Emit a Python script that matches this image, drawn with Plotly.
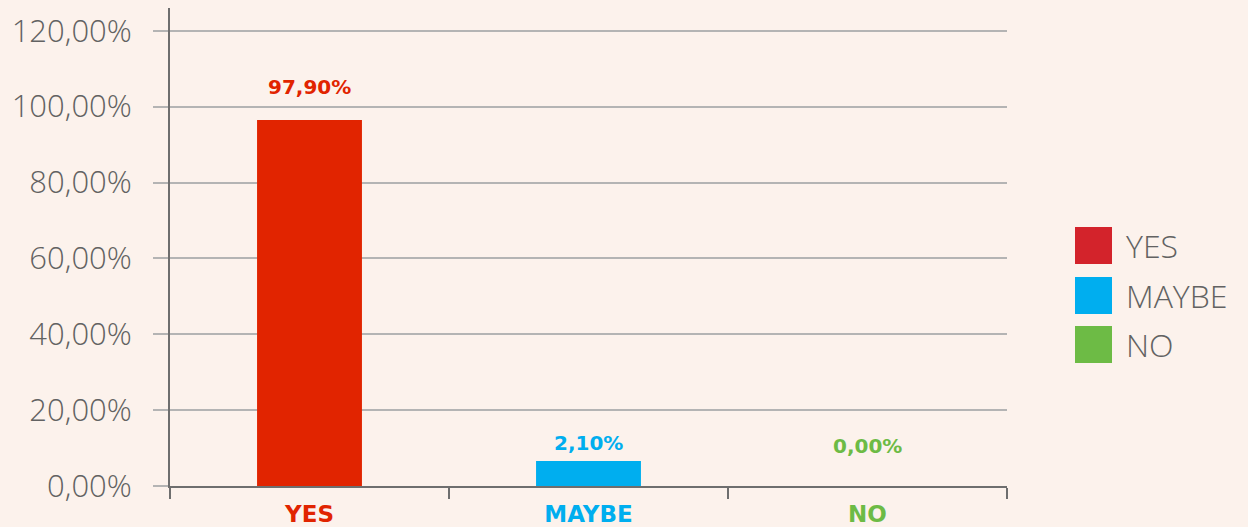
import plotly.graph_objects as go

categories = ["YES", "MAYBE", "NO"]
bar_values = [0.965, 0.066, 0.0]          # bar heights as drawn
label_texts = ["97,90%", "2,10%", "0,00%"]  # printed value labels
bar_colors = ["#E12400", "#00AEEF", "#6DBB45"]
legend_colors = ["#D3232B", "#00AEEF", "#6DBB45"]
y_ticks = [0, 0.2, 0.4, 0.6, 0.8, 1.0, 1.2]

W, H = 1248, 527
ML, MR, MT, MB = 170, 241, 8, 41
PW, PH = W - ML - MR, H - MT - MB
BG = "#FCF2EC"
FONT = "Open Sans"
BOLD = "DejaVu Sans"
TXT = "#626262"

def px_x(x):
    return (x - ML) / PW

def px_y(y):
    return (H - MB - y) / PH

fig = go.Figure()
fig.add_trace(go.Bar(
    x=categories, y=bar_values, marker=dict(color=bar_colors, line=dict(width=0)),
    width=0.376, showlegend=False, hoverinfo="skip",
))

# value labels
yshifts = [33, 18, 40]
for cat, val, txt, col, ys in zip(categories, bar_values, label_texts, bar_colors, yshifts):
    fig.add_annotation(x=cat, y=val, text=f"<b>{txt}</b>", showarrow=False,
                       yshift=ys, font=dict(family=BOLD, size=20, color=col))

# manual legend
box_tops = [227, 277, 326]
for cat, col, top in zip(categories, legend_colors, box_tops):
    fig.add_shape(type="rect", xref="paper", yref="paper",
                  x0=px_x(1075), x1=px_x(1112), y0=px_y(top + 37), y1=px_y(top),
                  fillcolor=col, line=dict(width=0))
    fig.add_annotation(xref="paper", yref="paper", x=px_x(1124), y=px_y(top + 18.5),
                       text=cat, showarrow=False, xanchor="left", yanchor="middle",
                       font=dict(family=FONT, size=32, color=TXT, weight=300))

ticktext_x = [f"<b><span style='color:{c}'>{t}</span></b>" for t, c in zip(categories, bar_colors)]

fig.update_layout(
    width=W, height=H,
    margin=dict(l=ML, r=MR, t=MT, b=MB),
    paper_bgcolor=BG, plot_bgcolor=BG,
    separators=",.",
    bargap=0.5,
    font=dict(family=FONT),
    xaxis=dict(
        tickvals=categories, ticktext=ticktext_x,
        tickfont=dict(family=BOLD, size=23),
        showline=True, linecolor="#6E6E6E", linewidth=2,
        ticks="outside", tickson="boundaries", ticklen=11, tickwidth=2, tickcolor="#6E6E6E",
        showgrid=False, zeroline=False, range=[-0.5, 2.5], ticklabelstandoff=6,
        automargin=False,
    ),
    yaxis=dict(
        range=[0, 1.26], tickvals=y_ticks, tickformat=".2%",
        tickfont=dict(family=FONT, size=31, color=TXT, weight=300),
        showgrid=True, gridcolor="#B4B4B4", gridwidth=2,
        ticks="outside", ticklen=15, tickwidth=2, tickcolor="#B4B4B4",
        showline=True, linecolor="#6E6E6E", linewidth=2,
        zeroline=False, ticklabelstandoff=15, automargin=False,
    ),
)

fig.write_html(
    "out.html",
    config={"displayModeBar": False},
    post_script="document.body.style.margin='0';document.body.style.background='" + BG + "';",
)
